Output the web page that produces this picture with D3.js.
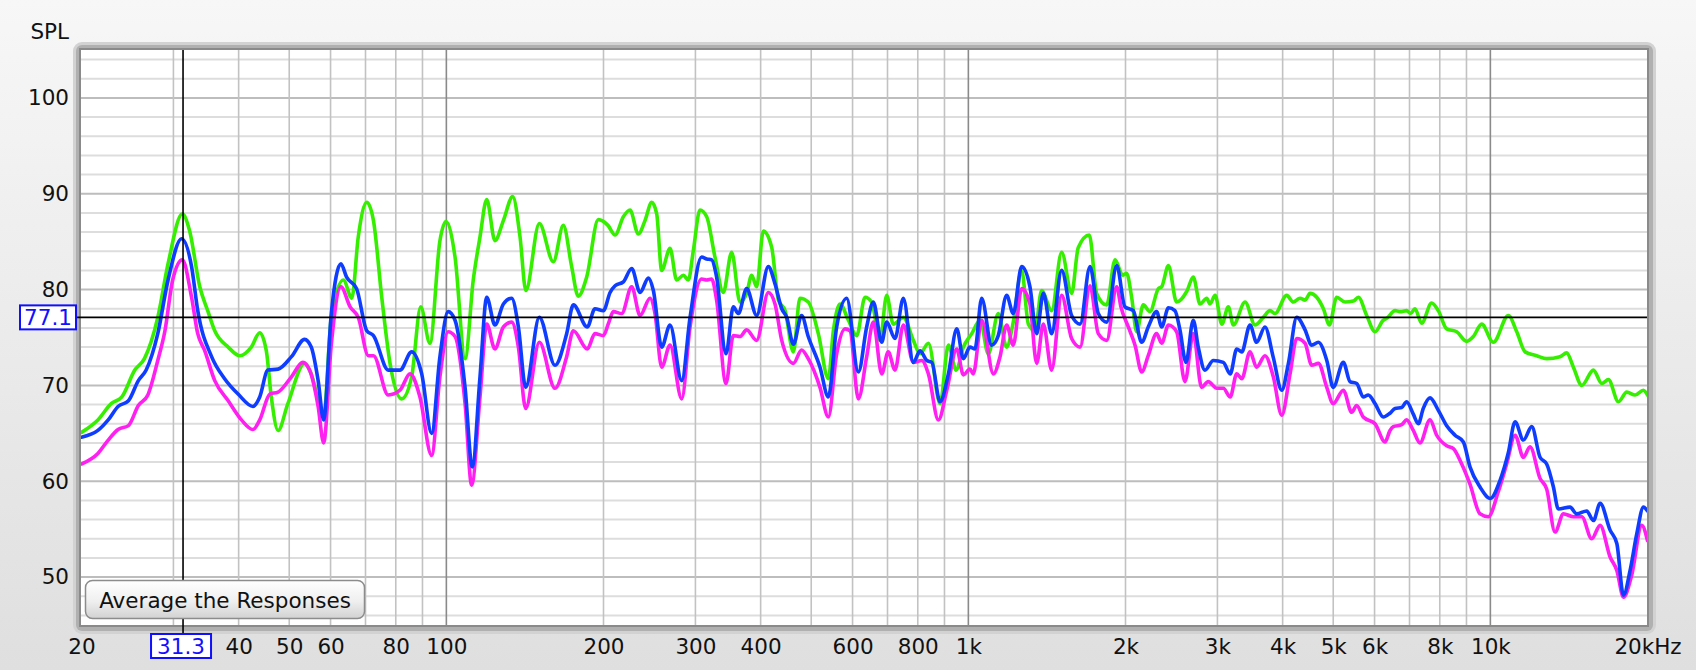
<!DOCTYPE html>
<html><head><meta charset="utf-8">
<script src="https://cdn.jsdelivr.net/npm/d3@7"></script>
<style>
html,body{margin:0;padding:0;overflow:hidden;background:#ececec;}
svg{display:block;font-family:"DejaVu Sans",sans-serif;}
</style></head><body>
<svg id="chart" width="1696" height="670"></svg>
<script>
// ---------- DATA ----------
const xTickValues = [20,40,50,60,80,100,200,300,400,600,800,1000,2000,3000,4000,5000,6000,8000,10000,20000];
const xTickLabels = ["20","40","50","60","80","100","200","300","400","600","800","1k","2k","3k","4k","5k","6k","8k","10k","20kHz"];
const xGridMinor = [30,40,50,60,70,80,90,200,300,400,500,600,700,800,900,2000,3000,4000,5000,6000,7000,8000,9000];
const xGridMajor = [100,1000,10000];
const yTickValues = [50,60,70,80,90,100];
const yGridMinor = [46,48,52,54,56,58,62,64,66,68,72,74,76,78,82,84,86,88,92,94,96,98,102,104];
const cursorFreq = 31.3;
const cursorLevel = 77.1;

const greenPts = [[20,65.1],[21.5,66.4],[22.8,68.1],[23.9,68.8],[25.3,71.6],[26.4,72.8],[28.0,77.1],[29.3,82.7],[31.2,87.9],[32.2,86.2],[33.7,80.3],[34.9,77.8],[36.0,75.7],[38.2,74.0],[40.2,73.1],[42.3,74.0],[43.9,75.5],[45.2,73.6],[46.2,68.8],[47.6,65.3],[49.7,68.1],[53.5,72.3],[55.1,71.2],[58.2,66.8],[60.2,77.1],[63.5,81.0],[65.9,79.1],[67.8,85.5],[70.4,89.1],[72.5,87.2],[75.2,79.2],[78.0,72.3],[82.1,68.6],[85.8,70.9],[89.3,78.2],[93.0,74.4],[97.2,85.1],[99.8,87.1],[103.9,83.4],[108.6,72.8],[112.6,81.0],[116.0,85.5],[119.5,89.4],[123.9,85.1],[128.6,87.2],[134.0,89.7],[138.4,85.5],[142,79.9],[150.7,86.9],[160.3,82.9],[167.5,86.7],[173.8,82.4],[178.9,79.3],[185.7,81.3],[195.5,87.3],[204,86.7],[210.5,85.7],[218.3,87.6],[224.8,88.3],[233.2,85.8],[240.2,87.2],[247.4,89.1],[252.9,87.9],[258.5,82.0],[268.2,84.3],[276.2,81.0],[284.5,81.5],[290.8,81.0],[297.3,84.1],[306.1,88.3],[315.3,87.6],[327.0,83.4],[339.3,79.7],[352.0,83.9],[365.2,78.7],[376.1,79.6],[384.5,81.5],[393.0,80.3],[404.8,86.1],[420,84.4],[432.6,78.9],[445.5,77.8],[462.2,73.5],[475.7,79.1],[493.5,78.7],[515.9,75.4],[539.2,70.7],[551.3,75.7],[567.7,78.5],[589.1,76.8],[611,75.2],[634,79.2],[652.8,78.7],[677.3,74.7],[697.5,79.4],[718,76.4],[750.7,77.1],[784.6,74.7],[808,73.3],[838.4,74.4],[882.6,68.1],[915.7,74.2],[947.2,71.6],[978.2,74.0],[1015,75.4],[1053,76.8],[1092,73.3],[1141,77.5],[1184,74.0],[1219,76.6],[1265,82.0],[1303,76.4],[1342,75.7],[1381.5,79.9],[1444,77.8],[1509,83.9],[1577,79.6],[1624,84.4],[1705,85.7],[1761,79.6],[1841,78.4],[1910,83.1],[1975,81.5],[2010,81.7],[2055,79.2],[2101,75.6],[2163,78.4],[2228,77.7],[2312,80.1],[2346,80.3],[2417,82.5],[2506,78.7],[2620,79.8],[2697,81.3],[2779,78.5],[2862,79.1],[2903,78.5],[2970,79.4],[3059,76.4],[3148,78.2],[3218,76.3],[3390,78.7],[3541,76.3],[3673,77.1],[3783,77.8],[3868,77.5],[4072,79.4],[4193,78.7],[4319,79.1],[4416,78.9],[4515,79.6],[4649,79.2],[4788,78.0],[4917,76.3],[5077,79.2],[5267,78.7],[5465,78.8],[5585,79.2],[5796,77.3],[6013,75.6],[6236,76.8],[6330,77.0],[6569,77.8],[6712,77.7],[6912,77.8],[7036,77.5],[7170,78.0],[7385,76.5],[7718,78.6],[7949,77.8],[8247,75.9],[8620,75.6],[9008,74.6],[9276,75.1],[9624,76.4],[10130,74.5],[10827,77.3],[11235,75.6],[11656,73.5],[12267,73.1],[12820,72.8],[13597,73.0],[14003,73.4],[14424,71.9],[14967,70.0],[15754,71.6],[16350,70.2],[16834,70.6],[17596,68.3],[18252,69.3],[18935,69.0],[19645,69.5],[20000,69.0]];

const bluePts = [[20,64.6],[21.5,65.3],[22.5,66.4],[23.5,67.8],[24.6,68.4],[25.7,70.5],[26.6,71.6],[28.0,75.4],[29.3,81.0],[31.1,85.3],[32.5,82.4],[33.4,77.8],[35.5,73.0],[37.6,70.7],[39.9,69.1],[42.6,67.8],[43.9,68.8],[45.5,71.6],[47.6,71.7],[50.5,73.0],[53.5,74.8],[55.1,74.0],[56.8,70.5],[58.2,66.4],[60.2,77.5],[62.8,82.7],[64.4,81.3],[67.3,80.1],[70.4,75.7],[72.5,75.2],[77.4,71.6],[81.5,71.6],[85.8,73.5],[89.7,71.2],[93.7,65.0],[97.2,73.0],[100.8,77.7],[103.9,76.8],[108.6,69.8],[112.1,61.5],[116.0,70.9],[119.5,79.2],[123.9,76.3],[128.6,78.5],[133.4,79.1],[137.4,76.1],[141.9,69.8],[150.7,77.1],[161.5,72.1],[170.0,75.4],[175.1,78.4],[186.2,76.1],[192.6,78.0],[199.9,77.8],[205.9,79.7],[210.5,80.4],[218.3,80.8],[226.5,82.2],[235,79.7],[243.8,81.2],[249.2,79.9],[258.5,74.0],[268.2,76.3],[282.4,70.5],[293,77.1],[308.3,83.4],[315.3,83.2],[322.3,83.1],[329.4,81.3],[343.3,73.3],[354.6,78.2],[362.5,77.5],[376.1,80.1],[393,77.3],[413.8,82.4],[426.2,80.6],[439,78.0],[448.8,77.1],[462.2,74.3],[479.2,77.3],[493.5,75.1],[519.7,71.9],[539.2,68.8],[559.4,76.1],[584.7,79.1],[615.6,71.4],[638.6,76.1],[657.6,78.7],[682.3,74.5],[697.5,76.6],[723.6,74.9],[750.7,79.1],[784.6,72.4],[808,73.6],[832.5,72.6],[851,72.4],[882.6,68.3],[915.7,71.2],[950.2,75.9],[978.2,72.8],[1007,74.0],[1029.5,73.8],[1060.5,79.1],[1108,74.2],[1141,75.2],[1184,79.4],[1219,77.5],[1265,82.4],[1312,80.3],[1351.5,75.4],[1392,79.6],[1444,75.4],[1509,82.0],[1577,77.3],[1637,76.4],[1710,82.4],[1774,77.5],[1841,76.6],[1924,82.5],[1995,78.2],[2070,77.8],[2148,74.5],[2211,76.1],[2294,77.7],[2346,76.1],[2417,78.1],[2487,77.8],[2543,75.8],[2611,72.4],[2697,76.8],[2757,74.0],[2839,71.6],[2946,72.6],[3079,72.4],[3174,71.2],[3267,73.8],[3340,73.5],[3464,76.3],[3566,74.5],[3700,76.1],[3839,72.9],[3984,69.5],[4103,72.3],[4257,77.1],[4416,75.8],[4547,74.2],[4683,74.5],[4860,72.6],[5000,69.8],[5228,72.4],[5384,70.4],[5545,70.2],[5708,68.8],[5836,69.0],[6013,68.1],[6236,66.7],[6423,67.1],[6569,67.6],[6763,67.7],[6912,68.3],[7118,67.0],[7277,66.0],[7439,67.6],[7663,68.7],[7949,67.4],[8247,65.8],[8557,64.8],[8877,64.1],[9140,61.5],[9553,59.4],[10000,58.2],[10437,60.1],[10827,63.0],[11152,66.2],[11570,64.3],[12002,65.7],[12450,62.5],[12820,61.8],[13206,59.4],[13497,57.1],[14210,57.3],[14634,56.6],[15296,56.9],[15754,55.9],[16229,57.7],[16958,54.9],[17469,53.5],[17988,48.1],[18522,50.7],[19075,54.5],[19645,57.3],[20000,56.9]];

const magentaPts = [[20,61.8],[21.5,62.9],[22.5,64.3],[23.5,65.4],[24.6,65.8],[25.7,67.9],[26.8,69.0],[28.0,72.6],[28.9,75.7],[29.9,81.0],[31.2,83.1],[32.5,79.2],[33.4,75.4],[34.4,73.7],[36.0,70.5],[38.2,68.4],[40.5,66.4],[42.6,65.4],[43.9,66.4],[45.9,69.1],[47.6,69.3],[50.5,70.9],[53.1,72.4],[54.7,71.6],[56.8,67.8],[58.2,64.0],[60.2,74.3],[62.8,80.3],[65.4,78.2],[67.8,77.1],[70.9,73.1],[72.5,73.1],[77.4,69.0],[81.5,69.5],[85.2,71.2],[89.0,68.8],[93.7,62.7],[97.2,70.9],[100.8,75.6],[103.9,75.1],[108.6,68.1],[111.8,59.6],[116.0,68.8],[119.5,76.4],[123.9,73.8],[128.6,76.1],[133.4,76.6],[137.4,74.0],[141.9,67.6],[150.7,74.5],[161.5,69.7],[170.0,73.0],[175.1,75.7],[186.2,73.8],[192.6,75.4],[199.9,75.2],[204.5,76.5],[208.9,77.7],[216.7,77.5],[226.5,80.3],[235,77.3],[245.6,79.1],[251,77.5],[258.5,71.9],[268.2,74.2],[282.4,68.6],[293,76.1],[308.3,81.1],[315.3,81.0],[322.3,81.1],[329.4,78.9],[343.3,70.2],[354.6,75.2],[365.2,75.1],[376.1,75.8],[393,74.7],[413.8,79.7],[426.2,78.5],[439,74.7],[462.2,72.3],[479.2,73.7],[493.5,72.8],[519.7,69.8],[539.2,66.7],[559.4,73.3],[580.4,75.9],[593.3,75.7],[615.6,68.6],[638.6,73.0],[657.6,76.6],[682.3,71.2],[702.3,73.5],[723.6,71.6],[750.7,76.3],[784.6,72.4],[814.3,72.6],[838.4,71.2],[876.2,66.4],[909.2,69.5],[950.2,73.8],[978.2,71.1],[1007,71.7],[1022,71.2],[1060.5,76.8],[1117,71.2],[1150,73.0],[1184,76.3],[1219,74.2],[1265,80.1],[1312,78.5],[1351.5,72.3],[1392,76.4],[1444,71.6],[1509,79.4],[1577,74.9],[1637,74.0],[1710,80.4],[1774,75.4],[1841,74.7],[1924,80.3],[1960,78.2],[2025,76.1],[2086,74.2],[2148,71.4],[2211,73.1],[2294,75.4],[2346,74.4],[2417,76.3],[2506,75.6],[2600,70.4],[2697,75.4],[2798,69.8],[2881,70.4],[2991,69.7],[3079,69.7],[3174,68.8],[3267,71.2],[3340,70.7],[3464,73.5],[3566,71.9],[3700,73.1],[3839,70.9],[3984,66.9],[4133,71.2],[4257,74.9],[4416,74.4],[4547,72.1],[4683,72.3],[4860,69.8],[5000,68.1],[5228,69.5],[5425,67.2],[5545,67.9],[5708,66.7],[6013,66.0],[6283,64.1],[6423,65.3],[6518,65.7],[6763,65.9],[6912,66.4],[7118,65.3],[7330,64.0],[7663,66.4],[7892,64.8],[8247,63.7],[8494,63.4],[8812,61.8],[9140,59.7],[9553,56.6],[9910,56.3],[10355,58.9],[10745,61.8],[11152,64.8],[11570,62.5],[11912,63.6],[12450,60.3],[12820,59.2],[13300,54.7],[13802,56.6],[14424,56.3],[14967,56.3],[15639,54.0],[16229,55.4],[16958,52.1],[17469,50.7],[17988,47.9],[18654,50.2],[19502,55.4],[20000,53.8]];

const seriesColors = {green:"#36ef00", magenta:"#ff1ff0", blue:"#0e3dff"};

// ---------- LAYOUT ----------
const W = 1696, H = 670;
const plot = {left:81, right:1647, top:50, bottom:625};
const FS = 21.5;
const x = d3.scaleLog().domain([20,20000]).range([plot.left+0.5, plot.right+0.5]);
const y = d3.scaleLinear().domain([45,105]).range([plot.bottom, plot.top]);

const svg = d3.select("#chart");
const defs = svg.append("defs");
const bg = defs.append("linearGradient").attr("id","bg").attr("x1",0).attr("y1",0).attr("x2",0).attr("y2",1);
bg.append("stop").attr("offset","0%").attr("stop-color","#f7f7f7");
bg.append("stop").attr("offset","100%").attr("stop-color","#dfdfdf");
const btn = defs.append("linearGradient").attr("id","btn").attr("x1",0).attr("y1",0).attr("x2",0).attr("y2",1);
btn.append("stop").attr("offset","0%").attr("stop-color","#ffffff");
btn.append("stop").attr("offset","55%").attr("stop-color","#efefef");
btn.append("stop").attr("offset","100%").attr("stop-color","#d2d2d2");
defs.append("clipPath").attr("id","clip").append("rect")
  .attr("x",plot.left).attr("y",plot.top).attr("width",plot.right-plot.left).attr("height",plot.bottom-plot.top);

svg.append("rect").attr("width",W).attr("height",H).attr("fill","url(#bg)");

// frame
svg.append("rect").attr("x",plot.left-8).attr("y",plot.top-8).attr("width",plot.right-plot.left+17).attr("height",plot.bottom-plot.top+17).attr("rx",9).attr("fill","#d2d2d2");
svg.append("rect").attr("x",plot.left-5).attr("y",plot.top-5).attr("width",plot.right-plot.left+11).attr("height",plot.bottom-plot.top+11).attr("rx",6).attr("fill","#b0b0b0");
svg.append("rect").attr("x",plot.left-2).attr("y",plot.top-2).attr("width",plot.right-plot.left+4).attr("height",plot.bottom-plot.top+4).attr("fill","#8a8a8a");
svg.append("rect").attr("x",plot.left).attr("y",plot.top).attr("width",plot.right-plot.left).attr("height",plot.bottom-plot.top).attr("fill","#ffffff");

const grid = svg.append("g").attr("clip-path","url(#clip)");
grid.selectAll(".hmin").data(yGridMinor).join("line")
  .attr("x1",plot.left).attr("x2",plot.right).attr("y1",d=>y(d)).attr("y2",d=>y(d))
  .attr("stroke","#dddddd").attr("stroke-width",2);
grid.selectAll(".hmaj").data(yTickValues).join("line")
  .attr("x1",plot.left).attr("x2",plot.right).attr("y1",d=>y(d)).attr("y2",d=>y(d))
  .attr("stroke","#bdbdbd").attr("stroke-width",2);
grid.selectAll(".vmin").data(xGridMinor).join("line")
  .attr("x1",d=>x(d)).attr("x2",d=>x(d)).attr("y1",plot.top).attr("y2",plot.bottom)
  .attr("stroke","#c2c2c2").attr("stroke-width",1.6);
grid.selectAll(".vmaj").data(xGridMajor).join("line")
  .attr("x1",d=>x(d)).attr("x2",d=>x(d)).attr("y1",plot.top).attr("y2",plot.bottom)
  .attr("stroke","#8a8a8a").attr("stroke-width",1.6);

// curves
const line = d3.line().x(d=>x(d[0])).y(d=>y(d[1])).curve(d3.curveMonotoneX);
const curves = svg.append("g").attr("clip-path","url(#clip)");
[[greenPts,seriesColors.green],[magentaPts,seriesColors.magenta],[bluePts,seriesColors.blue]].forEach(([pts,c])=>{
  curves.append("path").datum(pts).attr("d",line).attr("fill","none")
    .attr("stroke",c).attr("stroke-width",3.6).attr("stroke-linejoin","round").attr("stroke-linecap","round");
});

// cursor lines
const cx = x(cursorFreq), cy = y(cursorLevel);
svg.append("line").attr("x1",cx).attr("x2",cx).attr("y1",plot.top).attr("y2",634).attr("stroke","#000").attr("stroke-width",1.6);
svg.append("line").attr("x1",76).attr("x2",plot.right).attr("y1",cy).attr("y2",cy).attr("stroke","#000").attr("stroke-width",1.6);

// axes
const xAxis = d3.axisBottom(x).tickValues(xTickValues).tickFormat((d,i)=>xTickLabels[i]).tickSize(0).tickPadding(0);
const gx = svg.append("g").attr("transform",`translate(0,${plot.bottom})`).call(xAxis);
gx.select(".domain").remove();
gx.selectAll("text").attr("font-family","DejaVu Sans").attr("font-size",FS).attr("fill","#111").attr("dy",null).attr("y",29);

const yAxis = d3.axisLeft(y).tickValues(yTickValues).tickSize(0).tickPadding(0);
const gy = svg.append("g").attr("transform",`translate(69,0)`).call(yAxis);
gy.select(".domain").remove();
gy.selectAll("text").attr("font-family","DejaVu Sans").attr("font-size",FS).attr("fill","#111");

svg.append("text").attr("x",69).attr("y",39).attr("text-anchor","end").attr("font-size",FS).attr("fill","#111").text("SPL");

// cursor value boxes
svg.append("rect").attr("x",cx-32).attr("y",634).attr("width",60).attr("height",24).attr("fill","#fff").attr("stroke","#1010ff").attr("stroke-width",2);
svg.append("text").attr("x",cx-2).attr("y",654).attr("text-anchor","middle").attr("font-size",FS).attr("fill","#1010ff").text(cursorFreq.toFixed(1));
svg.append("rect").attr("x",20).attr("y",cy-12).attr("width",56).attr("height",24).attr("fill","#fff").attr("stroke","#1010ff").attr("stroke-width",2);
svg.append("text").attr("x",48).attr("y",cy+8).attr("text-anchor","middle").attr("font-size",FS).attr("fill","#1010ff").text(cursorLevel.toFixed(1));

// button
svg.append("rect").attr("x",85.5).attr("y",580.5).attr("width",279).attr("height",38).attr("rx",7).attr("fill","url(#btn)").attr("stroke","#8c8c8c").attr("stroke-width",1.5);
svg.append("text").attr("x",225).attr("y",607.5).attr("text-anchor","middle").attr("font-size",FS).attr("fill","#111").text("Average the Responses");
</script>
</body></html>
